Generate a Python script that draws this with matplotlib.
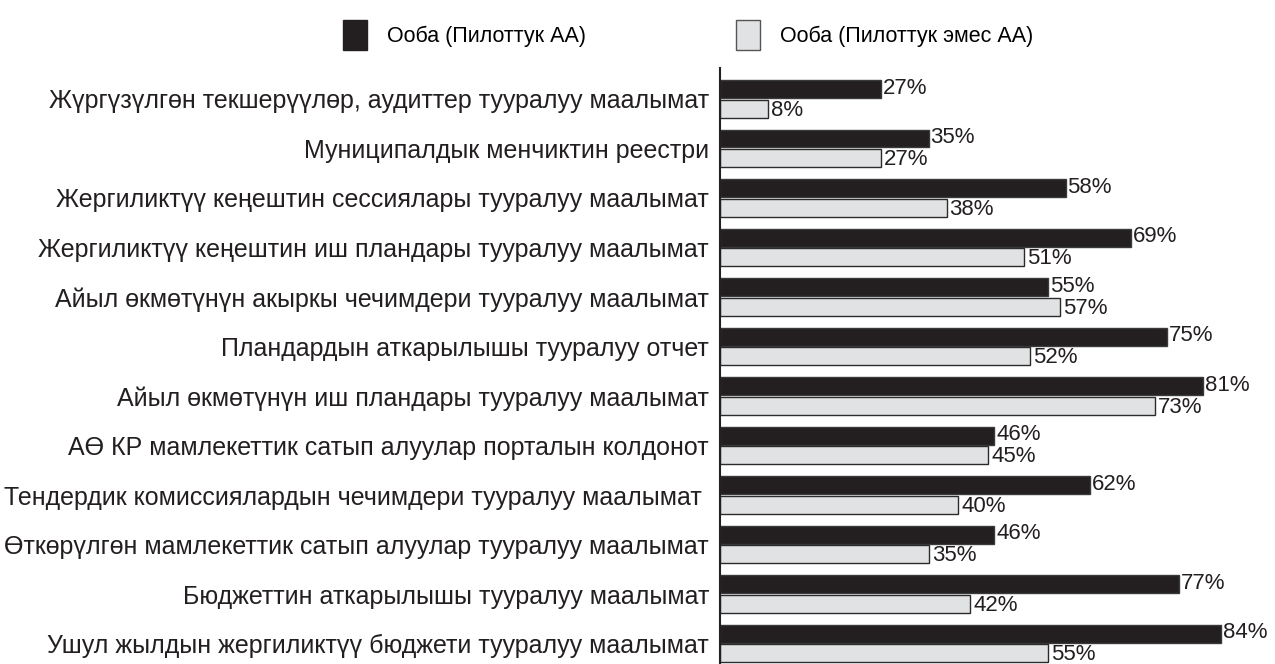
import numpy as np
import matplotlib.pyplot as plt
from matplotlib.patches import Patch

plt.rcParams['font.family'] = ['Liberation Sans Narrow', 'Liberation Sans', 'DejaVu Sans']

# категориялар жогорудан ылдыйга
categories = [
    'Жүргүзүлгөн текшерүүлөр, аудиттер тууралуу маалымат',
    'Муниципалдык менчиктин реестри',
    'Жергиликтүү кеңештин сессиялары тууралуу маалымат',
    'Жергиликтүү кеңештин иш пландары тууралуу маалымат',
    'Айыл өкмөтүнүн акыркы чечимдери тууралуу маалымат',
    'Пландардын аткарылышы тууралуу отчет',
    'Айыл өкмөтүнүн иш пландары тууралуу маалымат',
    'АӨ КР мамлекеттик сатып алуулар порталын колдонот',
    'Тендердик комиссиялардын чечимдери тууралуу маалымат ',
    'Өткөрүлгөн мамлекеттик сатып алуулар тууралуу маалымат',
    'Бюджеттин аткарылышы тууралуу маалымат',
    'Ушул жылдын жергиликтүү бюджети тууралуу маалымат',
]
pilot = [27, 35, 58, 69, 55, 75, 81, 46, 62, 46, 77, 84]
non_pilot = [8, 27, 38, 51, 57, 52, 73, 45, 40, 35, 42, 55]
series_names = ['Ооба (Пилоттук АА)', 'Ооба (Пилоттук эмес АА)']

fig = plt.figure(figsize=(12.75, 6.64), dpi=100)
ax = fig.add_axes([720/1275, 0, 555/1275, 596/664])

y = np.arange(len(categories))
h = 0.36
ax.barh(y - 0.2, pilot, height=h, color='#231f20', edgecolor='#3a3a3a', linewidth=1)
ax.barh(y + 0.2, non_pilot, height=h, color='#e1e2e4', edgecolor='#2b2b2b', linewidth=1)

for yi, v in zip(y, pilot):
    ax.text(v + 0.3, yi - 0.22, f'{v}%', va='center', ha='left', fontsize=16, color='#231f20')
for yi, v in zip(y, non_pilot):
    ax.text(v + 0.5, yi + 0.23, f'{v}%', va='center', ha='left', fontsize=16, color='#231f20')

ax.set_xlim(0, 93.1)
ax.set_ylim(11.414, -0.626)
ax.set_yticks(y)
ax.set_yticklabels(categories, fontsize=18, color='#231f20')
ax.tick_params(axis='y', length=0, pad=8)
ax.set_xticks([])
for s in ['top', 'right', 'bottom']:
    ax.spines[s].set_visible(False)
ax.spines['left'].set_color('#231f20')
ax.spines['left'].set_linewidth(1.5)

handles = [Patch(facecolor='#231f20', edgecolor='#231f20'),
           Patch(facecolor='#e1e2e4', edgecolor='#555555')]
fig.legend(handles, series_names, loc='center', bbox_to_anchor=(688/1275, 1 - 35/664),
           ncol=2, frameon=False, fontsize=15.5, handlelength=1.12, handleheight=1.8,
           handletextpad=0.9, columnspacing=7.0)

fig.savefig('out.png', dpi=100)
